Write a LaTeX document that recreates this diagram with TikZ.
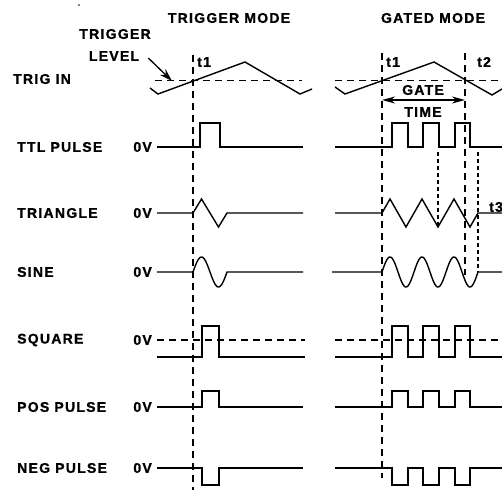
\documentclass[tikz,border=0pt]{standalone}
\usepackage{fontspec}
\setmainfont{Liberation Sans}
\newfontfamily\lblfont{Liberation Sans}[LetterSpace=9,FakeBold=1.2]
\usetikzlibrary{arrows.meta}
\begin{document}
\begin{tikzpicture}[x=1pt,y=-1pt,
  lab/.style={font=\lblfont\bfseries\fontsize{14}{16}\selectfont, inner sep=0pt},
  wave/.style={line width=1.4pt, line join=miter},
  lvl/.style={dash pattern=on 7pt off 5pt, line width=1.3pt},
  vguide/.style={dash pattern=on 7pt off 5pt, line width=1.3pt},
  fguide/.style={dash pattern=on 4pt off 3pt, line width=1.1pt},
  bigarrow/.style={line width=1.3pt, -{Stealth[length=13pt,width=8pt]}},
  gatearrow/.style={line width=1.3pt, {Stealth[length=13pt,width=7pt]}-{Stealth[length=13pt,width=7pt]}}]
\fill[white] (0,0) rectangle (502,491);
\useasboundingbox (0,0) rectangle (502,491);
\fill (79,5) circle (0.8pt);
% headings
\node[lab] (hdtrig) at (229,18) {TRIGGER MODE};
\node[lab] (hdgate) at (433,18) {GATED MODE};
\node[lab] (trgword) at (115,34) {TRIGGER};
\node[lab] (lvlword) at (114,56) {LEVEL};
% row labels
\node[lab,anchor=west] (trigin) at (13,79) {TRIG IN};
\node[lab,anchor=west] (ttl) at (17,147) {TTL PULSE};
\node[lab,anchor=west] (tri) at (17,213) {TRIANGLE};
\node[lab,anchor=west] (sine) at (17,272) {SINE};
\node[lab,anchor=west] (sq) at (17,340) {SQUARE};
\node[lab,anchor=west] (pos) at (17,407) {POS PULSE};
\node[lab,anchor=west] (neg) at (17,468) {NEG PULSE};
\node[lab,anchor=east] (z1) at (152,147) {0V};
\node[lab,anchor=east] (z2) at (152,213) {0V};
\node[lab,anchor=east] (z3) at (152,272) {0V};
\node[lab,anchor=east] (z4) at (152,340) {0V};
\node[lab,anchor=east] (z5) at (152,407) {0V};
\node[lab,anchor=east] (z6) at (152,468) {0V};
% time labels
\node[lab,anchor=west] (lt1) at (197,62) {t1};
\node[lab,anchor=west] (rt1) at (386,62) {t1};
\node[lab,anchor=west] (rt2) at (477,62) {t2};
\node[lab,anchor=west] (rt3) at (489,207) {t3};
\node[lab] (gate) at (423,90) {GATE};
\node[lab] (time) at (423,112) {TIME};
% trigger level arrow
\coordinate (tlhit) at (172,81);
\draw[bigarrow] ([xshift=9pt,yshift=-2pt]lvlword.east) -- (tlhit);
% gate time arrow
\coordinate (ga) at (382,100);
\coordinate (gb) at (465,100);
\draw[gatearrow] (ga) -- (gb);
% trigger level lines
\draw[lvl] (155,80.5) -- (302,80.5);
\draw[lvl] (335,80.5) -- (502,80.5);
% TRIG IN
\draw[wave] (150,88) -- (158,94) -- (245,62) -- (300,94) -- (312,89);
\draw[wave] (335,87) -- (345,94) -- (434,62) -- (492,95) -- (502,89);
% TTL
\draw[wave] (157,147) -- (200,147) -- (200,123) -- (220,123) -- (220,147) -- (303,147);
\draw[wave] (335,147) -- (392,147) -- (392,123) -- (408,123) -- (408,147) -- (423,147) -- (423,123) -- (439,123) -- (439,147) -- (455,147) -- (455,123) -- (470,123) -- (470,147) -- (502,147);
% TRIANGLE
\draw[wave] (157,213) -- (193,213) -- (201.5,199) -- (218.5,227) -- (227,213) -- (303,213);
\draw[wave] (335,213) -- (382,213) -- (390,199) -- (406,227) -- (422,199) -- (438,227) -- (454,199) -- (470,227) -- (478,213) -- (502,213);
% SINE
\draw[wave] (157,272) -- (193,272) -- plot[domain=0:360,samples=61] ({193+\x*0.0944444},{272-15*sin(\x)}) -- (303,272);
\draw[wave] (332,272) -- (382,272) -- plot[domain=0:1080,samples=181] ({382+\x*0.0888889},{272-15*sin(\x)}) -- (502,272);
% SQUARE
\draw[lvl] (157,340) -- (305,340);
\draw[lvl] (335,340) -- (502,340);
\draw[wave] (157,357) -- (202,357) -- (202,326) -- (219,326) -- (219,357) -- (305,357);
\draw[wave] (335,357) -- (392,357) -- (392,326) -- (408,326) -- (408,357) -- (423,357) -- (423,326) -- (439,326) -- (439,357) -- (455,357) -- (455,326) -- (470,326) -- (470,357) -- (502,357);
% POS PULSE
\draw[wave] (157,407) -- (202,407) -- (202,391) -- (219,391) -- (219,407) -- (303,407);
\draw[wave] (335,407) -- (392,407) -- (392,391) -- (408,391) -- (408,407) -- (423,407) -- (423,391) -- (439,391) -- (439,407) -- (455,407) -- (455,391) -- (470,391) -- (470,407) -- (502,407);
% NEG PULSE
\draw[wave] (157,468) -- (202,468) -- (202,485) -- (219,485) -- (219,468) -- (303,468);
\draw[wave] (335,468) -- (392,468) -- (392,485) -- (408,485) -- (408,468) -- (423,468) -- (423,485) -- (439,485) -- (439,468) -- (455,468) -- (455,485) -- (470,485) -- (470,468) -- (502,468);
% guides
\coordinate (g1a) at (193,55); \coordinate (g1b) at (193,490);
\coordinate (g2a) at (382,53); \coordinate (g2b) at (382,478);
\coordinate (g3a) at (465,53); \coordinate (g3b) at (465,275);
\coordinate (g4a) at (438,152); \coordinate (g4b) at (438,227);
\coordinate (g5a) at (478,152); \coordinate (g5b) at (478,272);
\draw[vguide] (g1a) -- (g1b);
\draw[vguide] (g2a) -- (g2b);
\draw[vguide] (g3a) -- (g3b);
\draw[fguide] (g4a) -- (g4b);
\draw[fguide] (g5a) -- (g5b);
\end{tikzpicture}
\end{document}
